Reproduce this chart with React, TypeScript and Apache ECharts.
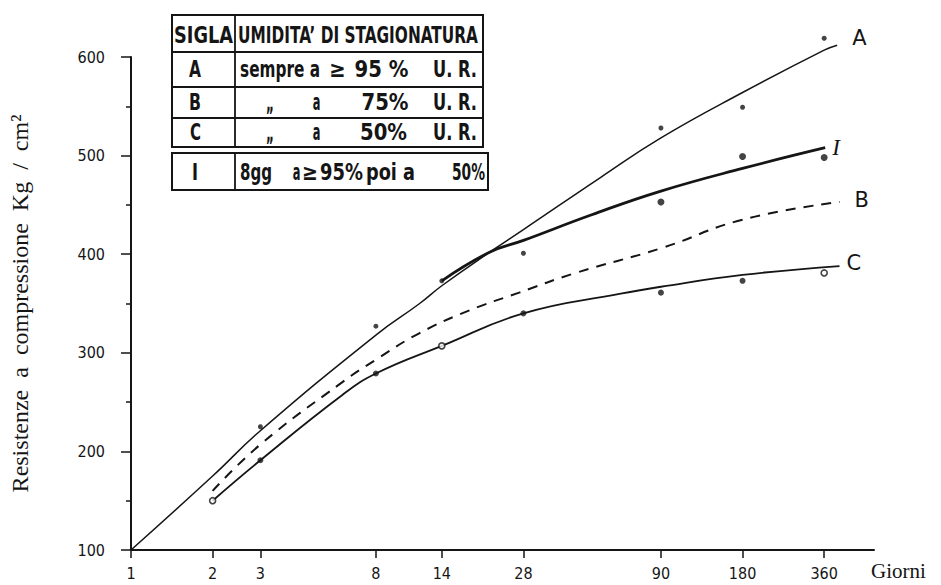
import React, { useEffect, useRef } from "react";
import * as echarts from "echarts";

// ---------------- data ----------------
const dayTicks = [1, 2, 3, 8, 14, 28, 90, 180, 360];

// fitted curves [days, kg/cm2]
const curveA: [number, number][] = [
  [1, 100], [2, 175], [3, 221], [8, 318], [11.6, 350], [14, 368], [21, 402],
  [28, 425], [54, 478], [90, 518], [180, 564], [360, 607], [402, 612],
];
const curveI: [number, number][] = [
  [14, 373], [21, 402], [28, 414], [50, 440], [90, 464], [180, 487], [363, 508],
];
const curveB: [number, number][] = [
  [2, 160], [3, 207], [6, 270], [8, 293], [11.6, 320], [17.7, 343], [27, 361],
  [43.6, 381], [90, 406], [180, 435], [410, 453],
];
const curveC: [number, number][] = [
  [2, 150], [3, 191], [6, 257], [8, 279], [14, 307], [28, 340], [64, 360],
  [90, 367], [180, 379], [410, 388],
];

// measured points
const pointsA: [number, number][] = [
  [3, 225], [8, 327], [14, 373], [28, 401], [90, 528], [180, 549], [360, 619],
];
const pointsI: [number, number][] = [[90, 453], [180, 499], [360, 498]];
const pointsC: [number, number][] = [[3, 191], [8, 279], [28, 340], [90, 361], [180, 373]];
const pointsCOpen: [number, number][] = [[2, 150], [14, 307], [360, 381]];

const curveNames = ["A", "I", "B", "C"];

// legend table texts
const tableHeader = ["SIGLA", "UMIDITA’ DI STAGIONATURA"];
const tableKeys = ["A", "B", "C", "I"];
const tablePieces: string[][] = [
  ["sempre a", "≥", "95 %", "U. R."],
  ["„", "a", "75%", "U. R."],
  ["„", "a", "50%", "U. R."],
  ["8gg", "a", "≥", "95%", "poi a", "50%"],
];

const xTitle = "Giorni";
const yTitle = "Resistenze  a  compressione  Kg  /  cm²";

// ---------------- helpers ----------------
const lg = (d: number) => Math.log10(d);
const toXY = (arr: [number, number][]) => arr.map(([d, v]) => [lg(d), v]);

const INK = "#151515";
const NARROW = "'DejaVu Sans Condensed', 'Liberation Sans Narrow', 'DejaVu Sans', sans-serif";
const SERIF = "'Liberation Serif', 'DejaVu Serif', serif";

export default function App() {
  const ref = useRef<HTMLDivElement>(null);

  useEffect(() => {
    document.body.style.margin = "0";
    const el = ref.current!;
    const chart = echarts.init(el, undefined, { renderer: "svg" });

    // ----- table (legend) graphic -----
    const ctx = document.createElement("canvas").getContext("2d")!;
    const TF = 23;
    const fit = (text: string, x0: number, x1: number, cy: number, minS = 0.5, maxS = 0.9) => {
      ctx.font = `bold ${TF}px ${NARROW}`;
      const w = ctx.measureText(text).width || 1;
      const s = Math.max(minS, Math.min(maxS, (x1 - x0) / w));
      return {
        type: "text",
        x: (x0 + x1) / 2,
        y: cy,
        scaleX: s,
        silent: true,
        style: {
          text,
          fontSize: TF,
          fontWeight: "bold",
          fontFamily: NARROW,
          fill: INK,
          align: "center",
          verticalAlign: "middle",
        },
      };
    };
    const hLine = (x1: number, x2: number, y: number, w = 1.8) => ({
      type: "line",
      silent: true,
      shape: { x1, y1: y, x2, y2: y },
      style: { stroke: INK, lineWidth: w },
    });
    const vLine = (x: number, y1: number, y2: number, w = 1.8) => ({
      type: "line",
      silent: true,
      shape: { x1: x, y1, x2: x, y2 },
      style: { stroke: INK, lineWidth: w },
    });

    const rowCY = [69, 102, 132, 172];
    const keySpans = [[189, 201], [189, 201], [190, 201], [192, 198]];
    const pieceSpans = [
      [[240, 320], [328, 347], [353, 410], [433, 477]],
      [[266, 274], [313, 320], [360, 410], [433, 477]],
      [[266, 274], [313, 320], [360, 407], [433, 477]],
      [[240, 272], [293, 300], [302, 318], [320, 363], [366, 415], [452, 485]],
    ];

    const tableEls: any[] = [
      { type: "rect", silent: true, shape: { x: 172, y: 15, width: 311, height: 132 },
        style: { fill: "#fff", stroke: INK, lineWidth: 2 } },
      vLine(235, 15, 147),
      hLine(172, 483, 52),
      hLine(172, 483, 87),
      hLine(172, 483, 118),
      { type: "rect", silent: true, shape: { x: 172, y: 153, width: 316, height: 37 },
        style: { fill: "#fff", stroke: INK, lineWidth: 2 } },
      vLine(235, 153, 190),
      fit(tableHeader[0], 174, 233, 35),
      fit(tableHeader[1], 238, 478, 35),
    ];
    tableKeys.forEach((k, i) => {
      tableEls.push(fit(k, keySpans[i][0], keySpans[i][1], rowCY[i], 0.55, 0.85));
    });
    tablePieces.forEach((pieces, i) => {
      pieces.forEach((p, j) => {
        const [a, b] = pieceSpans[i][j];
        tableEls.push(fit(p, a, b, rowCY[i], 0.55, 0.95));
      });
    });
    // x axis title (below-right of the axis end)
    tableEls.push({
      type: "text",
      x: 871,
      y: 571,
      silent: true,
      style: {
        text: xTitle,
        fontFamily: SERIF,
        fontSize: 21,
        fill: INK,
        align: "left",
        verticalAlign: "middle",
      },
    });

    const tickVals = dayTicks.map(lg);
    const axisFont = { fontFamily: NARROW, fontSize: 16, color: INK };

    const curveSeries = (
      name: string,
      data: [number, number][],
      lineStyle: any,
      labelOpts: any
    ) => ({
      type: "line",
      name,
      data: toXY(data),
      smooth: 0.45,
      clip: false,
      symbol: "none",
      lineStyle: { color: INK, ...lineStyle },
      z: 2,
      endLabel: {
        show: true,
        formatter: name,
        color: INK,
        ...labelOpts,
      },
    });

    const option: any = {
      animation: false,
      backgroundColor: "#fff",
      grid: { left: 126, right: 67, top: 57, bottom: 35 },
      xAxis: {
        type: "value",
        min: 0,
        max: 2.74,
        axisLine: { show: true, onZero: false, lineStyle: { color: INK, width: 2 } },
        axisTick: { show: true, customValues: tickVals, length: 8, lineStyle: { color: INK, width: 1.5 } },
        axisLabel: {
          customValues: tickVals,
          formatter: (v: number) => String(Math.round(Math.pow(10, v))),
          margin: 15,
          ...axisFont,
        },
        splitLine: { show: false },
      },
      yAxis: {
        type: "value",
        min: 100,
        max: 600,
        interval: 100,
        axisLine: { show: true, onZero: false, lineStyle: { color: INK, width: 2 } },
        axisTick: { show: true, length: 10, lineStyle: { color: INK, width: 1.5 } },
        minorTick: { show: true, splitNumber: 2, length: 5, lineStyle: { color: INK, width: 1.5 } },
        axisLabel: { margin: 26, padding: [0, 0, 12, 0], ...axisFont },
        splitLine: { show: false },
        minorSplitLine: { show: false },
        name: yTitle,
        nameLocation: "middle",
        nameRotate: 90,
        nameGap: 99,
        nameTextStyle: { fontFamily: SERIF, fontSize: 24, color: INK },
      },
      series: [
        curveSeries(curveNames[0], curveA, { width: 1.5 },
          { fontFamily: "'DejaVu Sans', sans-serif", fontSize: 21, distance: 15, offset: [0, -7] }),
        curveSeries(curveNames[1], curveI, { width: 2.8 },
          { fontFamily: SERIF, fontStyle: "italic", fontSize: 23, distance: 7, offset: [0, 0] }),
        curveSeries(curveNames[2], curveB, { width: 2, type: [10, 8] },
          { fontFamily: "'DejaVu Sans', sans-serif", fontSize: 21, distance: 15, offset: [0, -2] }),
        curveSeries(curveNames[3], curveC, { width: 1.8 },
          { fontFamily: "'DejaVu Sans', sans-serif", fontSize: 21, distance: 7, offset: [0, -3] }),
        {
          type: "scatter", name: "A pts", data: toXY(pointsA), symbol: "circle", symbolSize: 5,
          itemStyle: { color: INK }, z: 3, clip: false,
        },
        {
          type: "scatter", name: "I pts", data: toXY(pointsI), symbol: "circle", symbolSize: 7,
          itemStyle: { color: INK }, z: 3,
        },
        {
          type: "scatter", name: "C pts", data: toXY(pointsC), symbol: "circle", symbolSize: 6,
          itemStyle: { color: INK }, z: 3,
        },
        {
          type: "scatter", name: "C open", data: toXY(pointsCOpen), symbol: "circle", symbolSize: 6,
          itemStyle: { color: "#fff", borderColor: INK, borderWidth: 1.6 }, z: 3,
        },
      ],
      graphic: { elements: tableEls },
    };

    chart.setOption(option);
    return () => chart.dispose();
  }, []);

  return <div ref={ref} style={{ width: 941, height: 585, background: "#fff" }} />;
}
